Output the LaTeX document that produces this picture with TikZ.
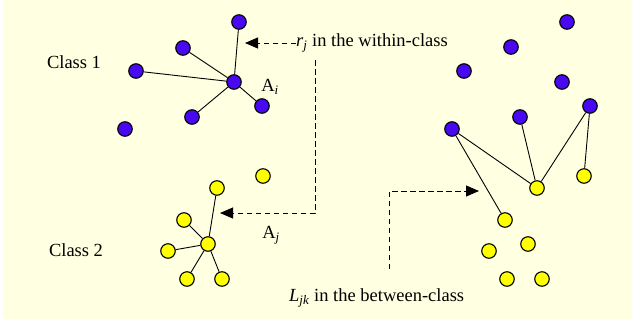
\documentclass[tikz,border=0pt]{standalone}
\usepackage{fontspec}
\setmainfont{Liberation Serif}
\usepackage{xcolor}
\usetikzlibrary{arrows.meta}
\definecolor{bgyellow}{RGB}{255,255,226}
\definecolor{dotpurple}{RGB}{72,8,240}
\definecolor{dotyellow}{RGB}{255,255,0}

\tikzset{
  purpledot/.style={circle, draw=black, fill=dotpurple, line width=1.1pt, minimum size=14.5pt, inner sep=0pt},
  yellowdot/.style={circle, draw=black, fill=dotyellow, line width=1.1pt, minimum size=14.5pt, inner sep=0pt},
  link/.style={line width=0.9pt},
  pointer/.style={line width=0.9pt, dash pattern=on 5.5pt off 3.5pt, -{Triangle[length=13pt,width=11pt]}},
  lbl/.style={font=\fontsize{18.5}{21}\selectfont, inner sep=0pt}
}

\begin{document}
\begin{tikzpicture}[x=1pt, y=-1pt]
  \useasboundingbox (0,0) rectangle (632,322);
  \fill[bgyellow] (3,0) rectangle (632,319);

  % Class 1, left
  \node[purpledot] (p1) at (239,22) {};
  \node[purpledot] (p2) at (183,48) {};
  \node[purpledot] (p3) at (136,71) {};
  \node[purpledot] (ai) at (234,82) {};
  \node[purpledot] (p4) at (262,106) {};
  \node[purpledot] (p5) at (192,117) {};
  \node[purpledot] (p6) at (125,129) {};
  \draw[link] (ai) -- (p1);
  \draw[link] (ai) -- (p2);
  \draw[link] (ai) -- (p3);
  \draw[link] (ai) -- (p4);
  \draw[link] (ai) -- (p5);

  % Class 2, left
  \node[yellowdot] (y1) at (217,188) {};
  \node[yellowdot] (y2) at (263,176) {};
  \node[yellowdot] (y3) at (184,220) {};
  \node[yellowdot] (aj) at (208,244) {};
  \node[yellowdot] (y4) at (168,251) {};
  \node[yellowdot] (y5) at (187,279) {};
  \node[yellowdot] (y6) at (222,279) {};
  \draw[link] (aj) -- (y1);
  \draw[link] (aj) -- (y3);
  \draw[link] (aj) -- (y4);
  \draw[link] (aj) -- (y5);
  \draw[link] (aj) -- (y6);

  % labels, left
  \node[lbl] (class1) at (74,62) {Class 1};
  \node[lbl] (class2) at (76,250) {Class 2};
  \node[lbl] (ailbl) at (270,87) {A\textsubscript{\textit{i}}};
  \node[lbl] (ajlbl) at (271,235) {A\textsubscript{\textit{j}}};
  \node[lbl, anchor=west] (rtext) at (296,43)
    {\textit{r}\textsubscript{\textit{j}} in the within-class};

  % within-class pointers
  \coordinate (rtip) at (245,43);
  \coordinate (rtop) at (315,60);
  \coordinate (rbend) at (315,213);
  \coordinate (rtip2) at (220,213);
  \draw[pointer] (rtext.west) -- (rtip);
  \draw[pointer] (rtop) -- (rbend) -- (rtip2);

  % Class 1, right
  \node[purpledot] (q1) at (567,22) {};
  \node[purpledot] (q2) at (511,47) {};
  \node[purpledot] (q3) at (464,71) {};
  \node[purpledot] (q4) at (562,82) {};
  \node[purpledot] (q5) at (590,106) {};
  \node[purpledot] (q6) at (520,117) {};
  \node[purpledot] (q7) at (452,129) {};

  % Class 2, right
  \node[yellowdot] (z1) at (537,188) {};
  \node[yellowdot] (z2) at (584,176) {};
  \node[yellowdot] (z3) at (505,220) {};
  \node[yellowdot] (z4) at (528,244) {};
  \node[yellowdot] (z5) at (489,251) {};
  \node[yellowdot] (z6) at (507,279) {};
  \node[yellowdot] (z7) at (542,279) {};
  \draw[link] (q7) -- (z1);
  \draw[link] (q7) -- (z3);
  \draw[link] (q6) -- (z1);
  \draw[link] (q5) -- (z1);
  \draw[link] (q5) -- (z2);

  % between-class pointer
  \node[lbl, anchor=west] (ltext) at (289,298)
    {\textit{L}\textsubscript{\textit{jk}} in the between-class};
  \coordinate (lfoot) at (389,269);
  \coordinate (lbend) at (389,191);
  \coordinate (ltip) at (479,191);
  \draw[pointer] (lfoot) -- (lbend) -- (ltip);
\end{tikzpicture}
\end{document}
